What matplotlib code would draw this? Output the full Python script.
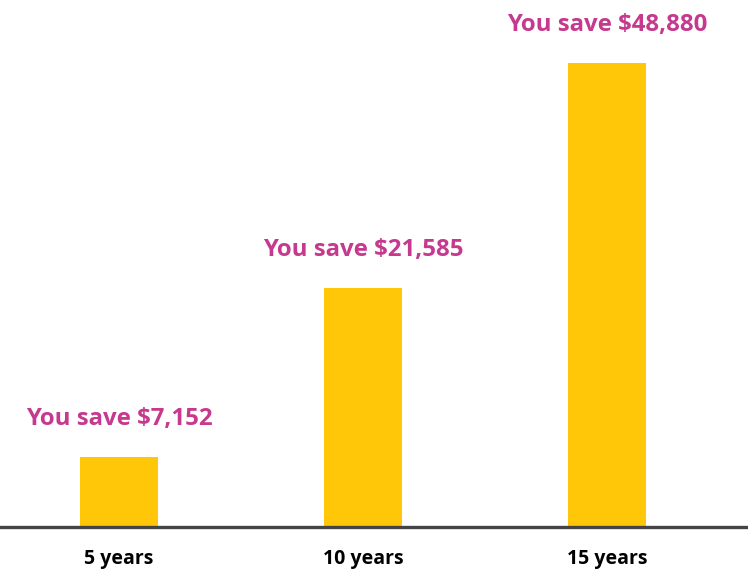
import matplotlib.pyplot as plt

# data
periods = ['5 years', '10 years', '15 years']
savings = ['$7,152', '$21,585', '$48,880']
bar_values = [7370, 25170, 48880]   # bar heights as drawn

plt.rcParams['font.family'] = ['Open Sans', 'DejaVu Sans']

fig = plt.figure(figsize=(7.48, 5.85), dpi=100)
ax = fig.add_axes([0, 0.0991, 1, 0.9009])

x = range(len(periods))
bars = ax.bar(x, bar_values, width=0.32, color='#FFC708', zorder=2)

for b, s in zip(bars, savings):
    ax.annotate('You save ' + s, (b.get_x() + b.get_width() / 2, b.get_height()),
                xytext=(0, 18.5), textcoords='offset points',
                ha='center', va='bottom', fontsize=17.3, fontweight='bold',
                color='#C53A8E')

ax.set_xlim(-0.4877, 2.578)
ax.set_ylim(0, 55500)
ax.set_xticks(list(x))
ax.set_xticklabels(periods, fontsize=14, fontweight='bold', color='black')
ax.tick_params(axis='x', length=0, pad=16)
ax.set_yticks([])
for sp in ['top', 'left', 'right']:
    ax.spines[sp].set_visible(False)
ax.spines['bottom'].set_color('#444444')
ax.spines['bottom'].set_linewidth(2.4)
ax.spines['bottom'].set_zorder(3)

fig.savefig('out.png', dpi=100)
